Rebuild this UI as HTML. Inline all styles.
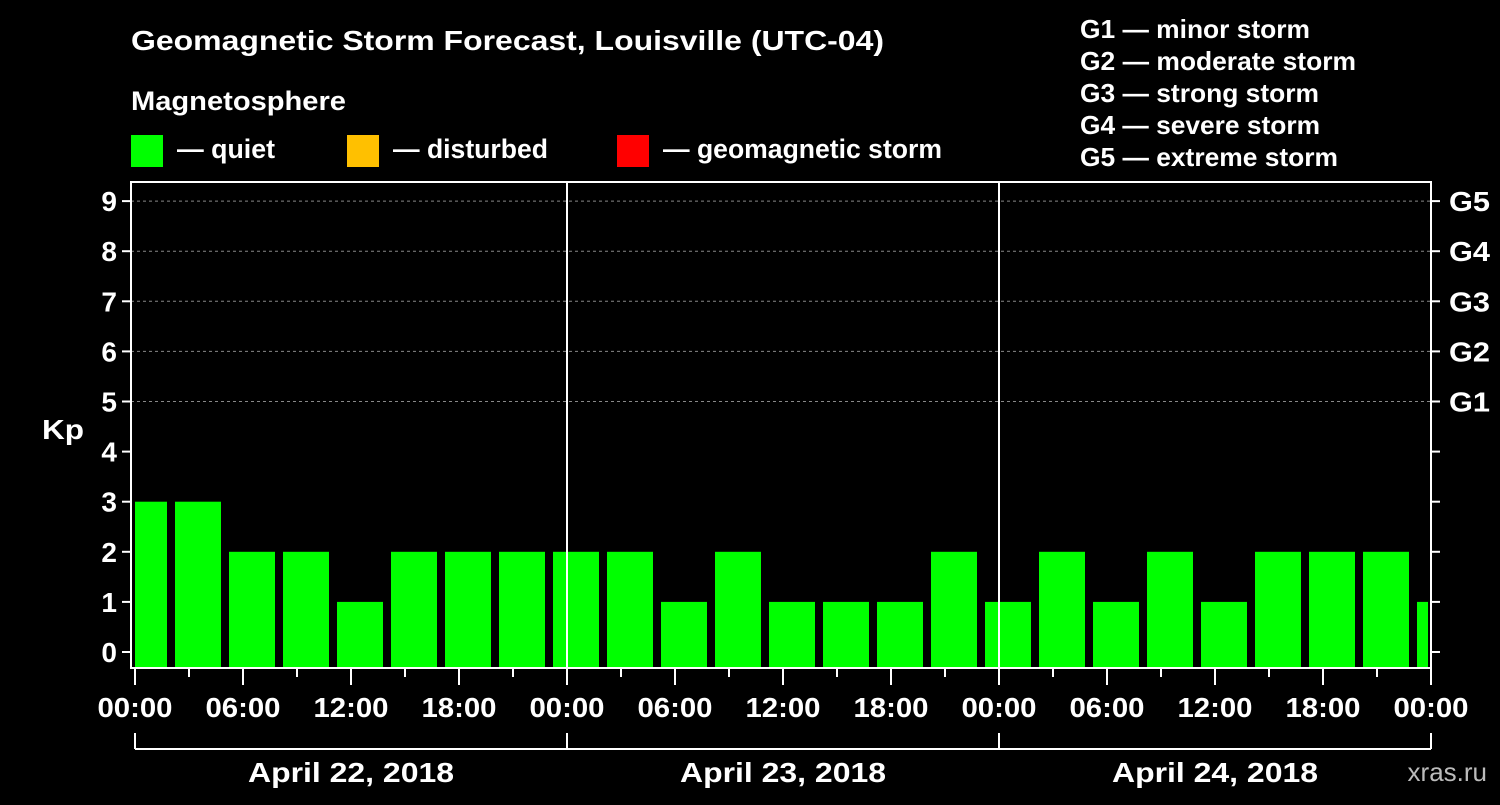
<!DOCTYPE html>
<html><head><meta charset="utf-8"><style>
html,body{margin:0;padding:0;background:#000;}
svg text{font-family:"Liberation Sans",Arial,sans-serif;font-weight:bold;fill:#fff;}
</style></head><body>
<svg width="1500" height="800" viewBox="0 0 1500 800">
<rect width="1500" height="800" fill="#000"/>
<text x="131" y="50" font-size="28" textLength="753" lengthAdjust="spacingAndGlyphs">Geomagnetic Storm Forecast, Louisville (UTC-04)</text>
<text x="131" y="110" font-size="27" textLength="215" lengthAdjust="spacingAndGlyphs">Magnetosphere</text>
<rect x="131" y="135" width="32" height="32" fill="#00ff00"/>
<text x="177" y="158" font-size="27" textLength="98" lengthAdjust="spacingAndGlyphs">— quiet</text>
<rect x="347" y="135" width="32" height="32" fill="#ffc000"/>
<text x="393" y="158" font-size="27" textLength="155" lengthAdjust="spacingAndGlyphs">— disturbed</text>
<rect x="617" y="135" width="32" height="32" fill="#ff0000"/>
<text x="663" y="158" font-size="27" textLength="279" lengthAdjust="spacingAndGlyphs">— geomagnetic storm</text>
<g font-size="26">
<text x="1080" y="38" textLength="230" lengthAdjust="spacingAndGlyphs">G1 — minor storm</text>
<text x="1080" y="70" textLength="276" lengthAdjust="spacingAndGlyphs">G2 — moderate storm</text>
<text x="1080" y="102" textLength="239" lengthAdjust="spacingAndGlyphs">G3 — strong storm</text>
<text x="1080" y="134" textLength="240" lengthAdjust="spacingAndGlyphs">G4 — severe storm</text>
<text x="1080" y="166" textLength="258" lengthAdjust="spacingAndGlyphs">G5 — extreme storm</text>
</g>
<g id="grid"></g>
<g id="bars"></g>
<g id="axes"></g>
<text x="42" y="439" font-size="28" textLength="42" lengthAdjust="spacingAndGlyphs">Kp</text>
<text x="1487" y="781" font-size="26" text-anchor="end" style="fill:#bbb;font-weight:normal">xras.ru</text>
</svg>
<script>
const kpValues=[3,3,2,2,1,2,2,2,2,2,1,2,1,1,1,2,1,2,1,2,1,2,2,2,1];
const startHour=-1;
const yTicks=[0,1,2,3,4,5,6,7,8,9];
const gLabels=["G1","G2","G3","G4","G5"];
const xLabels=["00:00","06:00","12:00","18:00","00:00","06:00","12:00","18:00","00:00","06:00","12:00","18:00","00:00"];
const dayLabels=["April 22, 2018","April 23, 2018","April 24, 2018"];
const NS="http://www.w3.org/2000/svg";
const X0=135,PXH=18,L=131,R=1431,T=182,B=668;
function xs(h){return X0+h*PXH;}
function ys(v){return 652-v*50.1;}
function mk(tag,attrs,parent,text){const e=document.createElementNS(NS,tag);for(const k in attrs)e.setAttribute(k,attrs[k]);if(text!==undefined)e.textContent=text;document.getElementById(parent).appendChild(e);return e;}
for(let v=5;v<=9;v++){
 const e=mk('line',{x1:L,x2:R,y1:ys(v),y2:ys(v),stroke:'#888','stroke-dasharray':'3,3','stroke-width':1},'grid');
 
 
}
kpValues.forEach((v,i)=>{
 let x1=Math.max(xs(startHour+i*3)+4,L+4), x2=Math.min(xs(startHour+i*3+3)-4,R-3);
 const col=v>=5?'#ff0000':(v>=4?'#ffc000':'#00ff00');
 const e=mk('rect',{x:x1,y:ys(v),width:x2-x1,height:B-1-ys(v),fill:col},'bars');
 
 
});
const fr=mk('rect',{x:L,y:T,width:R-L,height:B-T,fill:'none',stroke:'#fff','stroke-width':2},'axes');


[24,48].forEach(h=>{
 const e=mk('line',{x1:xs(h),x2:xs(h),y1:T,y2:B,stroke:'#fff','stroke-width':2},'axes');
 
 
});
yTicks.forEach(v=>{
 mk('line',{x1:L-9,x2:L,y1:ys(v),y2:ys(v),stroke:'#fff','stroke-width':2},'axes');
 mk('line',{x1:R,x2:R+9,y1:ys(v),y2:ys(v),stroke:'#fff','stroke-width':2},'axes');
 const t=mk('text',{x:L-14,y:ys(v)+10,'font-size':28,'text-anchor':'end'},'axes',String(v));
 
 
});
gLabels.forEach((g,i)=>{
 const t=mk('text',{x:R+18,y:ys(5+i)+10,'font-size':28,textLength:41,lengthAdjust:'spacingAndGlyphs'},'axes',g);
 
 
});
for(let h=0;h<=72;h+=3){
 const major=h%6===0;
 mk('line',{x1:xs(h),x2:xs(h),y1:B,y2:B+(major?17:9),stroke:'#fff','stroke-width':2},'axes');
}
xLabels.forEach((s,i)=>{
 const t=mk('text',{x:xs(i*6),y:717,'font-size':28,'text-anchor':'middle',textLength:75,lengthAdjust:'spacingAndGlyphs'},'axes',s);
 
 
});
mk('line',{x1:xs(0),x2:xs(72),y1:749,y2:749,stroke:'#fff','stroke-width':2},'axes');
[0,24,48,72].forEach(h=>mk('line',{x1:xs(h),x2:xs(h),y1:733,y2:749,stroke:'#fff','stroke-width':2},'axes'));
dayLabels.forEach((s,i)=>{
 const t=mk('text',{x:xs(i*24+12),y:782,'font-size':28,'text-anchor':'middle',textLength:206,lengthAdjust:'spacingAndGlyphs'},'axes',s);
 
 
});
</script>
</body></html>
